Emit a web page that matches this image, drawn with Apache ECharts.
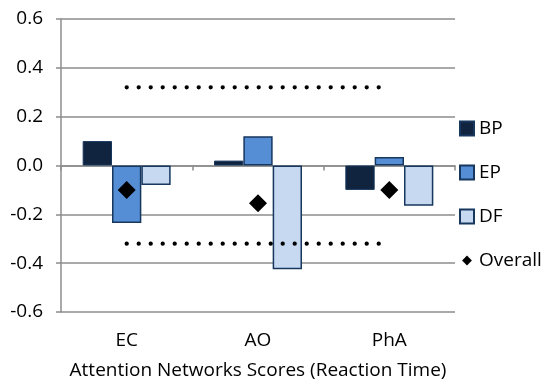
<!DOCTYPE html>
<html>
<head>
<meta charset="utf-8">
<script src="https://cdn.jsdelivr.net/npm/echarts@6/dist/echarts.min.js"></script>
<style>
  html, body { margin: 0; padding: 0; background: #fff; }
  #chart { width: 544px; height: 388px; }
</style>
</head>
<body>
<div id="chart"></div>
<script>
// Attention network scores by group, reaction time
const categories = ['EC', 'AO', 'PhA'];
const bpValues = [0.10, 0.02, -0.10];
const epValues = [-0.235, 0.12, 0.035];
const dfValues = [-0.08, -0.425, -0.165];
const overallValues = [-0.10, -0.155, -0.10];
// Dotted reference bands
const upperBand = [0.32, 0.32, 0.32];
const lowerBand = [-0.32, -0.32, -0.32];
const yMin = -0.6, yMax = 0.6, yStep = 0.2;
const legendNames = ['BP', 'EP', 'DF', 'Overall'];
const xTitle = 'Attention Networks Scores (Reaction Time)';

const FONT = 'Open Sans';
const FS = 19;
const GRID_GRAY = '#8c8c8c';
const EDGE = '#17375E';

const chart = echarts.init(document.getElementById('chart'), null, { renderer: 'canvas' });

const dotted = (name, data) => ({
  name, type: 'line', data, symbol: 'none', silent: true, z: 5,
  lineStyle: { color: '#000', width: 4.2, type: [0.1, 11.9], cap: 'round' }
});

chart.setOption({
  animation: false,
  textStyle: { fontFamily: FONT },
  grid: { left: 61, right: 89, top: 19, bottom: 76, containLabel: false },
  legend: {
    orient: 'vertical', left: 459, top: 119, padding: 0,
    itemWidth: 14, itemHeight: 14, itemGap: 25,
    textStyle: { fontFamily: FONT, fontSize: FS, color: '#000' },
    data: [
      { name: legendNames[0], icon: 'rect' },
      { name: legendNames[1], icon: 'rect' },
      { name: legendNames[2], icon: 'rect' },
      { name: legendNames[3], icon: 'path://M0,0 M20,20 M10,3 L17,10 L10,17 L3,10 Z' }
    ]
  },
  xAxis: [
    {
      type: 'category', data: categories, position: 'bottom',
      axisLine: { show: false, onZero: false }, axisTick: { show: false },
      axisLabel: { fontFamily: FONT, fontSize: FS, color: '#000', margin: 19 },
      name: xTitle, nameLocation: 'middle', nameGap: 49,
      nameTextStyle: { fontFamily: FONT, fontSize: FS, color: '#000' }
    },
    {
      type: 'category', data: categories, position: 'bottom',
      axisLine: { show: true, onZero: true, lineStyle: { color: GRID_GRAY, width: 1.5 } },
      axisTick: { show: true, length: 5, lineStyle: { color: GRID_GRAY, width: 1.5 } },
      axisLabel: { show: false }
    }
  ],
  yAxis: {
    type: 'value', min: yMin, max: yMax, interval: yStep,
    axisLine: { show: true, lineStyle: { color: GRID_GRAY, width: 1.5 } },
    axisTick: { show: true, length: 5, lineStyle: { color: GRID_GRAY, width: 1.5 } },
    splitLine: { show: true, lineStyle: { color: GRID_GRAY, width: 1.5 } },
    axisLabel: { fontFamily: FONT, fontSize: FS, color: '#000', margin: 18,
      formatter: v => (Math.abs(v) < 1e-9 ? 0 : v).toFixed(1) }
  },
  series: [
    { name: legendNames[0], type: 'bar', data: bpValues, barGap: '0%', barCategoryGap: '33%',
      itemStyle: { color: '#10243F', borderColor: EDGE, borderWidth: 1 } },
    { name: legendNames[1], type: 'bar', data: epValues,
      itemStyle: { color: '#558ED5', borderColor: EDGE, borderWidth: 1.5 } },
    { name: legendNames[2], type: 'bar', data: dfValues,
      itemStyle: { color: '#C6D9F1', borderColor: EDGE, borderWidth: 1.5 } },
    { name: legendNames[3], type: 'scatter', data: overallValues, symbol: 'diamond', symbolSize: 18, z: 6,
      itemStyle: { color: '#000', opacity: 1 } },
    dotted('upper', upperBand),
    dotted('lower', lowerBand)
  ]
});
</script>
</body>
</html>
